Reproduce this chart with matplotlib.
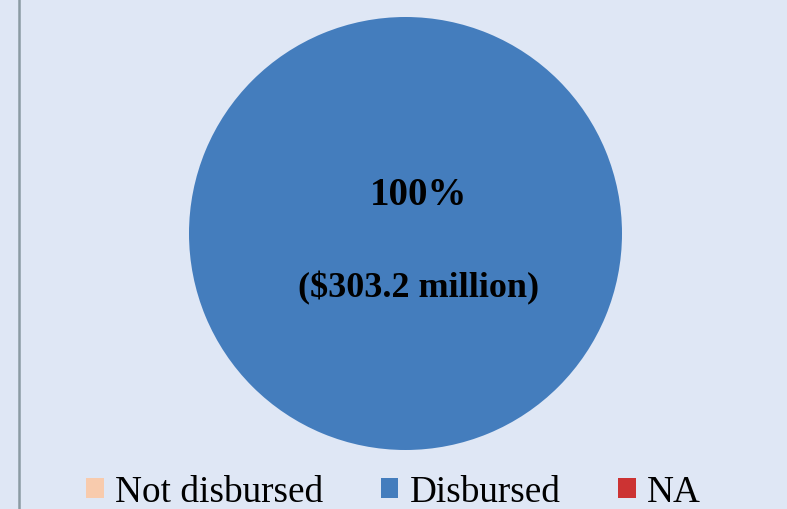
import matplotlib
matplotlib.use("Agg")
import matplotlib.pyplot as plt
from matplotlib.lines import Line2D
from matplotlib.patches import Patch

categories = ["Not disbursed", "Disbursed", "NA"]
values = [0.0, 303.2, 0.0]  # $ million
colors = ["#f8cbad", "#447dbd", "#cc3333"]

W, H = 787, 510
fig = plt.figure(figsize=(W / 100, H / 100), dpi=100, facecolor="#dfe7f5")

cx, cy, r = 405.5, 234.5, 216.5
ax = fig.add_axes([(cx - r) / W, (H - cy - r) / H, 2 * r / W, 2 * r / H])
ax.set_facecolor("none")
wedges, _ = ax.pie(values, colors=colors, startangle=90, counterclock=False,
                   radius=1.0, wedgeprops=dict(linewidth=0))
ax.set_xlim(-1, 1)
ax.set_ylim(-1, 1)
ax.set_aspect("equal")
ax.axis("off")

total = sum(values)
idx = 1
pct = values[idx] / total * 100
font = "Liberation Serif"
ax.text(0.06, 0.18, f"{pct:.0f}%", ha="center", va="center", fontsize=28,
        fontweight="bold", family=font, color="black")
ax.text(0.06, -0.25, f"(${values[idx]:.1f} million)", ha="center", va="center",
        fontsize=26, fontweight="bold", family=font, color="black")

handles = [Patch(facecolor=c, edgecolor="none") for c in colors]
fig.legend(handles, categories, loc="center", bbox_to_anchor=(0.5, 0.033),
           ncol=3, frameon=False, prop=dict(family=font, size=26.8),
           handlelength=0.47, handleheight=0.47, handletextpad=0.3,
           columnspacing=1.55, borderpad=0)

fig.add_artist(Line2D([18.5 / W, 18.5 / W], [0, 1], transform=fig.transFigure,
                      color="#8b9ba3", lw=1.8))

fig.savefig("out.png", dpi=100, facecolor=fig.get_facecolor())
